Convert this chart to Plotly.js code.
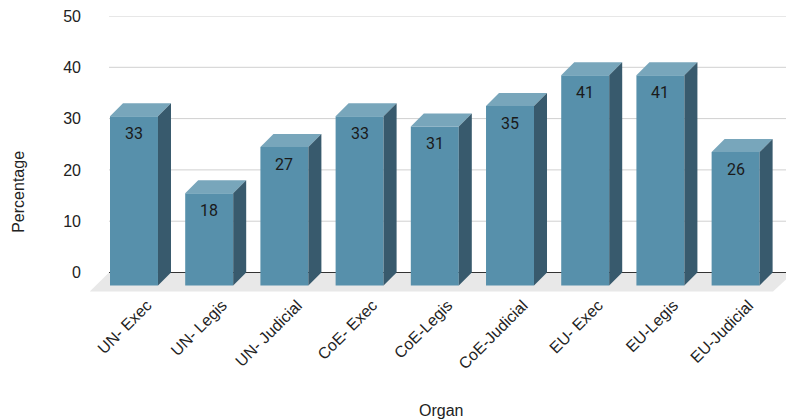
<!DOCTYPE html>
<html>
<head>
<meta charset="utf-8">
<script src="https://cdn.plot.ly/plotly-3.0.1.min.js"></script>
<style>html,body{margin:0;padding:0;background:#fff;}#chart{width:786px;height:420px;}</style>
</head>
<body>
<div id="chart"></div>
<script>
// ---- data ----
const categories = ["UN- Exec", "UN- Legis", "UN- Judicial", "CoE- Exec", "CoE-Legis", "CoE-Judicial", "EU- Exec", "EU-Legis", "EU-Judicial"];
const values = [33, 18, 27, 33, 31, 35, 41, 41, 26];
const yTicks = [0, 10, 20, 30, 40, 50];

// ---- 3D styling (in axis units) ----
const DX = 0.173;   // depth offset, x units
const DY = 2.53;    // depth offset, y units
const BW = 0.638;   // bar width
const FRONT = '#5790ab', TOP = '#78a6bb', SIDE = '#385a6d';

const idx = categories.map((c, i) => i);
const shapes = [];

// floor
shapes.push({type: 'path', xref: 'x', yref: 'y', layer: 'below',
  path: 'M -0.505 0 L 8.6 0 L 8.324 -3.7 L -0.76 -3.7 Z',
  fillcolor: '#e8e8e8', line: {width: 0}});
// gridlines
yTicks.filter(t => t > 0).forEach(t => shapes.push({type: 'line', xref: 'x', yref: 'y', layer: 'below',
  x0: -0.505, x1: 8.6, y0: t, y1: t, line: {color: '#d0d0d0', width: 1}}));
// zero line
shapes.push({type: 'line', xref: 'x', yref: 'y', layer: 'below',
  x0: -0.505, x1: 8.6, y0: 0, y1: 0, line: {color: '#333333', width: 1}});

// top and side faces
values.forEach((v, i) => {
  const x0 = i - DX - BW / 2, x1 = i - DX + BW / 2;
  const yf = v - DY;
  shapes.push({type: 'path', xref: 'x', yref: 'y', layer: 'above',
    path: `M ${x0} ${yf} L ${x1} ${yf} L ${x1 + DX} ${v} L ${x0 + DX} ${v} Z`,
    fillcolor: TOP, line: {width: 0}});
  shapes.push({type: 'path', xref: 'x', yref: 'y', layer: 'above',
    path: `M ${x1} ${-DY} L ${x1} ${yf} L ${x1 + DX} ${v} L ${x1 + DX} 0 Z`,
    fillcolor: SIDE, line: {width: 0}});
});

const annotations = values.map((v, i) => ({
  x: i - DX, y: v - DY, xref: 'x', yref: 'y', text: String(v), showarrow: false,
  yanchor: 'middle', yshift: -17.5, font: {family: 'Roboto', size: 16, color: '#1a1a1a'}
}));
annotations.push({text: 'Percentage', xref: 'paper', yref: 'paper', x: 0, y: 0.363, showarrow: false,
  textangle: -90, font: {family: 'Liberation Sans, Arial', size: 16, color: '#222'},
  xanchor: 'center', yanchor: 'middle', xshift: -71});
annotations.push({text: 'Organ', xref: 'paper', yref: 'paper', x: 0.5, y: 0, showarrow: false,
  font: {family: 'Liberation Sans, Arial', size: 16, color: '#222'}, yanchor: 'middle', yshift: -118, xshift: 3});

const trace = {
  type: 'bar', x: idx.map(i => i - DX), y: values, base: -DY, width: BW,
  marker: {color: FRONT, line: {width: 0}}, hoverinfo: 'skip'
};

const layout = {
  width: 786, height: 420,
  margin: {l: 90, r: 0, t: 16, b: 127.5},
  paper_bgcolor: '#fff', plot_bgcolor: '#fff',
  showlegend: false,
  font: {family: 'Liberation Sans, Arial', size: 16, color: '#222'},
  xaxis: {range: [-0.758, 8.497], tickvals: idx, ticktext: categories, tickangle: -45,
    showgrid: false, zeroline: false, showline: false, ticks: '', fixedrange: true},
  yaxis: {range: [-3.8, 50], tickvals: yTicks, showgrid: false, zeroline: false, showline: false,
    ticks: '', ticklabelstandoff: 8, fixedrange: true},
  shapes: shapes,
  annotations: annotations
};

Plotly.newPlot('chart', [trace], layout, {displayModeBar: false, staticPlot: true});
</script>
</body>
</html>
